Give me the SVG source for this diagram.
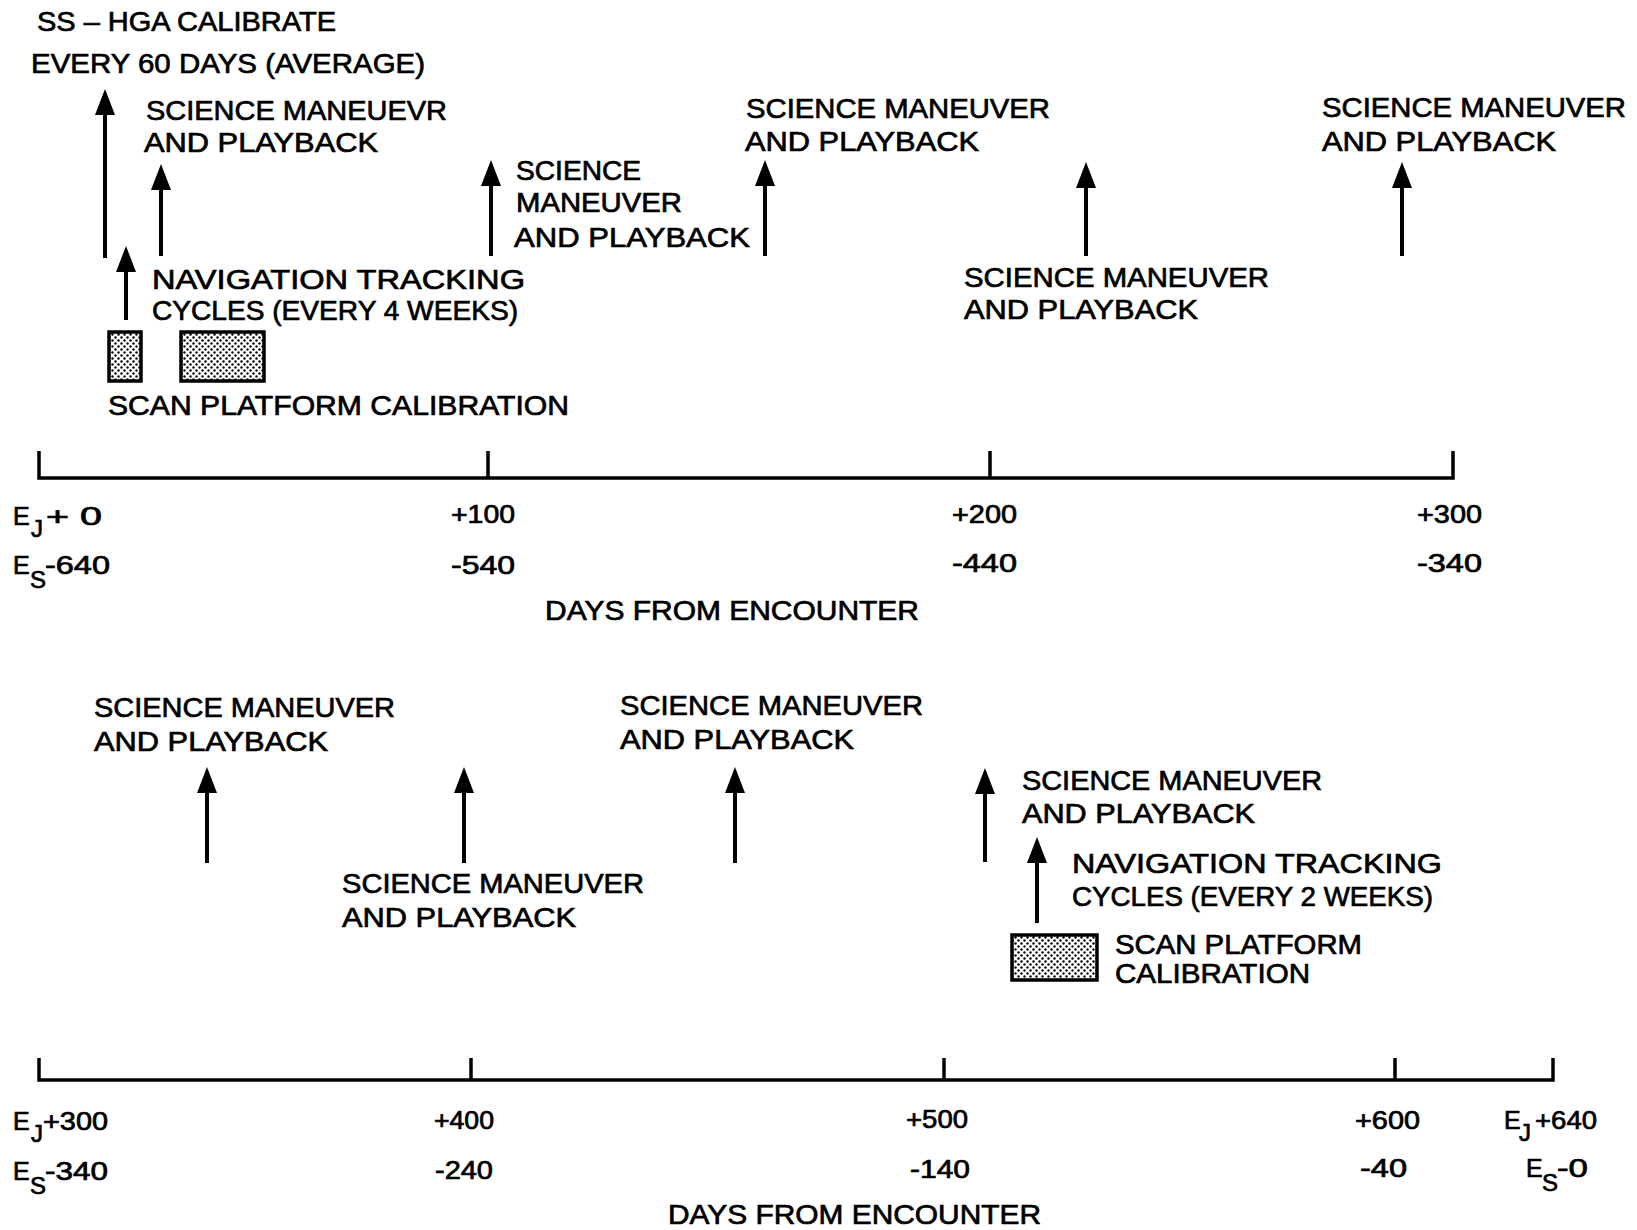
<svg xmlns="http://www.w3.org/2000/svg" width="1637" height="1230" viewBox="0 0 1637 1230">
<style>
text{font-family:"Liberation Sans",Arial,sans-serif;fill:#000;stroke:#000;stroke-width:0.7}
.l{font-size:28px}
.a{font-size:25px}
.s{font-size:24px}
.arr{stroke:#000;stroke-width:4;fill:none;marker-end:url(#ah)}
.ax{stroke:#000;stroke-width:3.5;fill:none}
.box{fill:url(#dots);stroke:#000;stroke-width:3.5}
</style>
<defs>
<marker id="ah" markerUnits="userSpaceOnUse" viewBox="0 0 26 20" markerWidth="26" markerHeight="20" refX="16" refY="10" orient="auto">
<path d="M0,0 L26,10 L0,20 z" fill="#000"/>
</marker>
<pattern id="dots" patternUnits="userSpaceOnUse" width="6" height="6">
<rect width="6" height="6" fill="#fff"/>
<circle cx="1.5" cy="1.5" r="1.2" fill="#000"/>
<circle cx="4.5" cy="4.5" r="1.2" fill="#000"/>
</pattern>
</defs>
<rect width="1637" height="1230" fill="#fff"/>

<g id="connectors">
<line class="arr" x1="105" y1="258" x2="105" y2="99"/>
<line class="arr" x1="161" y1="256" x2="161" y2="174"/>
<line class="arr" x1="126" y1="320" x2="126" y2="256"/>
<line class="arr" x1="491" y1="256" x2="491" y2="170"/>
<line class="arr" x1="765" y1="256" x2="765" y2="170"/>
<line class="arr" x1="1086" y1="256" x2="1086" y2="172"/>
<line class="arr" x1="1402" y1="256" x2="1402" y2="172"/>
<line class="arr" x1="207" y1="863" x2="207" y2="777"/>
<line class="arr" x1="464" y1="863" x2="464" y2="777"/>
<line class="arr" x1="735" y1="863" x2="735" y2="777"/>
<line class="arr" x1="985" y1="862" x2="985" y2="778"/>
<line class="arr" x1="1037" y1="923" x2="1037" y2="847"/>
</g>

<g id="hga">
<text class="l" x="37" y="31" textLength="299" lengthAdjust="spacingAndGlyphs">SS – HGA CALIBRATE</text>
<text class="l" x="31" y="73" textLength="394" lengthAdjust="spacingAndGlyphs">EVERY 60 DAYS (AVERAGE)</text>
</g>
<g id="sci1">
<text class="l" x="146" y="120" textLength="301" lengthAdjust="spacingAndGlyphs">SCIENCE MANEUEVR</text>
<text class="l" x="144" y="152" textLength="234" lengthAdjust="spacingAndGlyphs">AND PLAYBACK</text>
</g>
<g id="nav1">
<text class="l" x="152" y="289" textLength="373" lengthAdjust="spacingAndGlyphs">NAVIGATION TRACKING</text>
<text class="l" x="152" y="320" textLength="366" lengthAdjust="spacingAndGlyphs">CYCLES (EVERY 4 WEEKS)</text>
</g>
<g id="scan1">
<rect class="box" x="109" y="332" width="32" height="49"/>
<rect class="box" x="181" y="332" width="83" height="49"/>
<text class="l" x="108" y="415" textLength="461" lengthAdjust="spacingAndGlyphs">SCAN PLATFORM CALIBRATION</text>
</g>
<g id="sci2">
<text class="l" x="516" y="180" textLength="125" lengthAdjust="spacingAndGlyphs">SCIENCE</text>
<text class="l" x="516" y="212" textLength="166" lengthAdjust="spacingAndGlyphs">MANEUVER</text>
<text class="l" x="514" y="247" textLength="236" lengthAdjust="spacingAndGlyphs">AND PLAYBACK</text>
</g>
<g id="sci3">
<text class="l" x="746" y="118" textLength="304" lengthAdjust="spacingAndGlyphs">SCIENCE MANEUVER</text>
<text class="l" x="745" y="151" textLength="234" lengthAdjust="spacingAndGlyphs">AND PLAYBACK</text>
</g>
<g id="sci4">
<text class="l" x="964" y="287" textLength="305" lengthAdjust="spacingAndGlyphs">SCIENCE MANEUVER</text>
<text class="l" x="964" y="319" textLength="234" lengthAdjust="spacingAndGlyphs">AND PLAYBACK</text>
</g>
<g id="sci5">
<text class="l" x="1322" y="117" textLength="304" lengthAdjust="spacingAndGlyphs">SCIENCE MANEUVER</text>
<text class="l" x="1322" y="151" textLength="234" lengthAdjust="spacingAndGlyphs">AND PLAYBACK</text>
</g>

<g id="axis1">
<path class="ax" d="M39,451 V478 H1453 V451 M488,478 V451 M990,478 V451"/>
<text class="a" x="13" y="525">E</text><text class="s" x="31" y="537">J</text>
<text class="a" x="46" y="525" textLength="56" lengthAdjust="spacingAndGlyphs">+ 0</text>
<text class="a" x="13" y="574">E</text><text class="s" x="30" y="588">S</text>
<text class="a" x="45" y="574" textLength="65" lengthAdjust="spacingAndGlyphs">-640</text>
<text class="a" x="451" y="523" textLength="64" lengthAdjust="spacingAndGlyphs">+100</text>
<text class="a" x="451" y="574" textLength="64" lengthAdjust="spacingAndGlyphs">-540</text>
<text class="a" x="952" y="523" textLength="65" lengthAdjust="spacingAndGlyphs">+200</text>
<text class="a" x="952" y="572" textLength="65" lengthAdjust="spacingAndGlyphs">-440</text>
<text class="a" x="1417" y="523" textLength="65" lengthAdjust="spacingAndGlyphs">+300</text>
<text class="a" x="1417" y="572" textLength="65" lengthAdjust="spacingAndGlyphs">-340</text>
<text class="l" x="545" y="620" textLength="374" lengthAdjust="spacingAndGlyphs">DAYS FROM ENCOUNTER</text>
</g>

<g id="sci6">
<text class="l" x="94" y="717" textLength="301" lengthAdjust="spacingAndGlyphs">SCIENCE MANEUVER</text>
<text class="l" x="94" y="751" textLength="234" lengthAdjust="spacingAndGlyphs">AND PLAYBACK</text>
</g>
<g id="sci7">
<text class="l" x="342" y="893" textLength="302" lengthAdjust="spacingAndGlyphs">SCIENCE MANEUVER</text>
<text class="l" x="342" y="927" textLength="234" lengthAdjust="spacingAndGlyphs">AND PLAYBACK</text>
</g>
<g id="sci8">
<text class="l" x="620" y="715" textLength="303" lengthAdjust="spacingAndGlyphs">SCIENCE MANEUVER</text>
<text class="l" x="620" y="749" textLength="234" lengthAdjust="spacingAndGlyphs">AND PLAYBACK</text>
</g>
<g id="sci9">
<text class="l" x="1022" y="790" textLength="300" lengthAdjust="spacingAndGlyphs">SCIENCE MANEUVER</text>
<text class="l" x="1022" y="823" textLength="233" lengthAdjust="spacingAndGlyphs">AND PLAYBACK</text>
</g>
<g id="nav2">
<text class="l" x="1072" y="873" textLength="370" lengthAdjust="spacingAndGlyphs">NAVIGATION TRACKING</text>
<text class="l" x="1072" y="906" textLength="361" lengthAdjust="spacingAndGlyphs">CYCLES (EVERY 2 WEEKS)</text>
</g>
<g id="scan2">
<rect class="box" x="1012" y="935" width="85" height="45"/>
<text class="l" x="1115" y="954" textLength="247" lengthAdjust="spacingAndGlyphs">SCAN PLATFORM</text>
<text class="l" x="1115" y="983" textLength="195" lengthAdjust="spacingAndGlyphs">CALIBRATION</text>
</g>

<g id="axis2">
<path class="ax" d="M39,1058 V1080 H1553 V1058 M471,1080 V1058 M944,1080 V1058 M1395,1080 V1058"/>
<text class="a" x="13" y="1130">E</text><text class="s" x="31" y="1142">J</text>
<text class="a" x="43" y="1130" textLength="65" lengthAdjust="spacingAndGlyphs">+300</text>
<text class="a" x="13" y="1180">E</text><text class="s" x="30" y="1194">S</text>
<text class="a" x="45" y="1180" textLength="63" lengthAdjust="spacingAndGlyphs">-340</text>
<text class="a" x="434" y="1129" textLength="60" lengthAdjust="spacingAndGlyphs">+400</text>
<text class="a" x="435" y="1179" textLength="58" lengthAdjust="spacingAndGlyphs">-240</text>
<text class="a" x="906" y="1128" textLength="62" lengthAdjust="spacingAndGlyphs">+500</text>
<text class="a" x="910" y="1178" textLength="60" lengthAdjust="spacingAndGlyphs">-140</text>
<text class="a" x="1355" y="1129" textLength="65" lengthAdjust="spacingAndGlyphs">+600</text>
<text class="a" x="1360" y="1177" textLength="47" lengthAdjust="spacingAndGlyphs">-40</text>
<text class="a" x="1504" y="1129">E</text><text class="s" x="1519" y="1141">J</text>
<text class="a" x="1535" y="1129" textLength="62" lengthAdjust="spacingAndGlyphs">+640</text>
<text class="a" x="1526" y="1177">E</text><text class="s" x="1542" y="1191">S</text>
<text class="a" x="1557" y="1177" textLength="31" lengthAdjust="spacingAndGlyphs">-0</text>
<text class="l" x="668" y="1224" textLength="373" lengthAdjust="spacingAndGlyphs">DAYS FROM ENCOUNTER</text>
</g>
</svg>
